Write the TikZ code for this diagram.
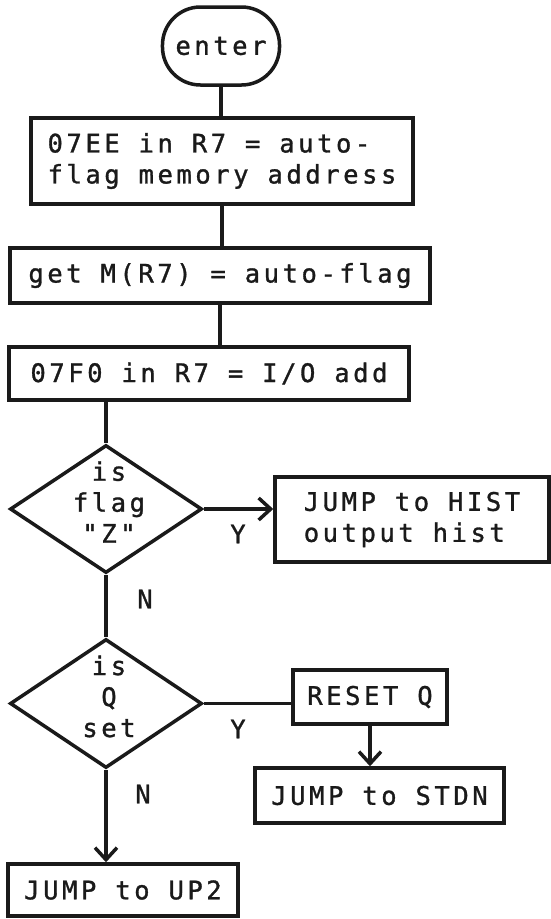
\documentclass[tikz,border=0pt]{standalone}
\usepackage{fontspec}
\usepackage{tikz}
\usetikzlibrary{arrows.meta,positioning,shapes.geometric,calc}
\newfontfamily\chartfont{DejaVu Sans Mono}[LetterSpace=14,FakeBold=1.2]
\definecolor{ChartInk}{HTML}{1A1A1A}
\definecolor{ChartPaper}{HTML}{FFFFFF}
\newcommand{\chartsize}{\chartfont\fontsize{25.5}{31}\selectfont}

\begin{document}
\begin{tikzpicture}[x=1pt,y=-1pt,
  box/.style={draw=ChartInk,line width=3.5pt,fill=white,align=left,inner xsep=13pt,inner ysep=0pt,font=\chartsize,text=ChartInk},
  term/.style={box,rounded corners=38pt,align=center},
  decision/.style={draw=ChartInk,line width=3.5pt,shape=diamond,aspect=1.5,inner sep=0pt,minimum width=192pt,minimum height=128pt},
  dectext/.style={align=center,font=\chartsize,text=ChartInk,xshift=3pt,yshift=7pt},
  tag/.style={inner sep=0pt,font=\chartsize,text=ChartInk},
  edge/.style={draw=ChartInk,line width=3.5pt},
  flow/.style={edge,-{Straight Barb[length=12pt,width=22pt]}}
]
\fill[ChartPaper] (0,0) rectangle (551,919);
% main column
\node[term,minimum width=114pt,minimum height=78pt] (enter) at (221,46) {enter};
\node[box,minimum width=382pt,minimum height=86pt] (addr) at (222,161) {07EE in R7 = auto-\\flag memory address};
\node[box,minimum width=420pt,minimum height=55pt] (getflag) at (220,275.5) {get M(R7) = auto-flag};
\node[box,minimum width=400pt,minimum height=53pt] (ioadd) at (209,373.5) {07F0 in R7 = I/O add};
\node[decision,label={[dectext]center:{is\\flag\\"Z"}}] (isz) at (106,509) {};
\node[box,minimum width=274pt,minimum height=85pt] (hist) at (412,519.5) {JUMP to HIST\\output hist};
\node[decision,minimum height=129pt,label={[dectext]center:{is\\Q\\set}}] (isq) at (106,703.5) {};
\node[box,minimum width=154pt,minimum height=54pt] (resetq) at (370,697) {RESET Q};
\node[box,minimum width=249pt,minimum height=55pt] (stdn) at (379.5,795.5) {JUMP to STDN};
\node[box,minimum width=230pt,minimum height=52pt] (uptwo) at (123,890) {JUMP to UP2};
% branch letters
\node[tag] (yz) at (238,534) {Y};
\node[tag] (nz) at (145,599) {N};
\node[tag] (yq) at (238,729) {Y};
\node[tag] (nq) at (143,794) {N};
% connectors
\draw[edge] (enter.south) -- (enter.south |- addr.north);
\draw[edge] (addr.south) -- (addr.south |- getflag.north);
\draw[edge] (getflag.south) -- (getflag.south |- ioadd.north);
\draw[edge] (isz.north |- ioadd.south) -- (isz.north);
\draw[flow] (isz.east) -- (isz.east -| hist.west);
\draw[edge] (isz.south) -- (isq.north);
\draw[edge] (isq.east) -- (isq.east -| resetq.west);
\draw[flow] (resetq.south) -- (resetq.south |- stdn.north);
\draw[flow] (isq.south) -- (isq.south |- uptwo.north);
\end{tikzpicture}
\end{document}
